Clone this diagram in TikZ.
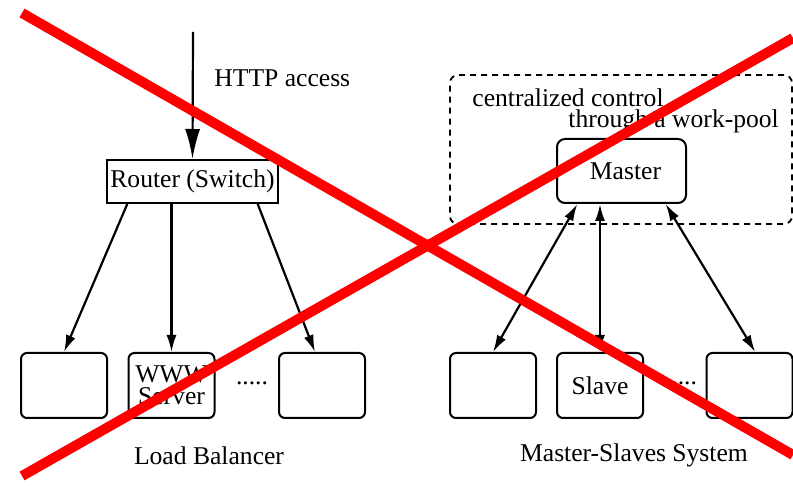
\documentclass[tikz,border=0pt]{standalone}
\usepackage{fontspec}
\setmainfont{Liberation Serif}
\usepackage{tikz}
\usetikzlibrary{arrows.meta,calc}
\definecolor{crossRed}{RGB}{255,0,0}
\tikzset{
  hostbox/.style={draw,rounded corners=3pt,line width=1pt,minimum width=43pt,minimum height=32.5pt,
                  inner sep=0pt,align=center},
  routerbox/.style={draw,line width=1pt,minimum width=85.5pt,minimum height=21.5pt,inner sep=0pt},
  poolbox/.style={draw,dash pattern=on 3pt off 2.5pt,rounded corners=4pt,line width=0.9pt,
                  minimum width=171pt,minimum height=74.5pt},
  lbl/.style={inner sep=0pt},
  arr/.style={-{Latex[length=8.5pt,width=5pt]},line width=1.1pt},
  bigarr/.style={-{Latex[length=15pt,width=7.5pt]},line width=1.1pt},
  darr/.style={{Latex[length=8.5pt,width=5pt]}-{Latex[length=8.5pt,width=5pt]},line width=1.1pt},
  cross/.style={crossRed,line width=5pt},
}

\begin{document}
\begin{tikzpicture}[x=0.5pt,y=-0.5pt,font=\fontsize{12.8}{15}\selectfont]
  \useasboundingbox (0,0) rectangle (793,486);

  % load balancer side
  \coordinate (httpin) at (193,32);
  \node[routerbox] (router) at (192.5,181.5) {Router (Switch)};
  \node[lbl,anchor=base west] (http) at (214,87) {HTTP access};
  \node[hostbox] (lb1) at (64,385.5) {};
  \node[hostbox,font=\fontsize{12.8}{11}\selectfont] (lb2) at (171.5,385.5) {WWW\\Server};
  \node[hostbox] (lb3) at (322,385.5) {};
  \node[lbl,anchor=base] (dots1) at (252,385) {.....};
  \node[lbl,anchor=base] (lbname) at (209,465) {Load Balancer};

  \draw[bigarr] (httpin) -- (router.north);
  \draw[arr] ($(router.south west)!0.123!(router.south east)$) -- (lb1.north);
  \draw[arr] (lb2.north |- router.south) -- (lb2.north);
  \draw[arr] ($(router.south west)!0.877!(router.south east)$) -- ($(lb3.north west)!0.42!(lb3.north east)$);

  % master / slaves side
  \node[poolbox] (pool) at (621,149.5) {};
  \node[lbl,anchor=base west] (ctrl) at (472,107) {centralized control};
  \node[lbl,anchor=base west] (pooltxt) at (568,128) {through a work-pool};
  \node[hostbox,rounded corners=4pt,minimum width=64.5pt,minimum height=32pt] (master) at (621.5,171) {\hspace{4pt}Master};
  \node[hostbox] (sl1) at (493,385.5) {};
  \node[hostbox] (sl2) at (600,385.5) {Slave};
  \node[hostbox] (sl3) at (749.5,385.5) {};
  \node[lbl,anchor=base] (dots2) at (681,385) {.....};
  \node[lbl,anchor=base] (msname) at (634,461) {Master-Slaves System};

  \draw[darr] ($(master.south west)!0.163!(master.south east)$) -- (sl1.north);
  \draw[darr] (sl2.north |- master.south) -- (sl2.north);
  \draw[darr] ($(master.south west)!0.837!(master.south east)$) -- ($(sl3.north west)!0.565!(sl3.north east)$);

  % crossed out
  \draw[cross] (22,13) -- (793,455);
  \draw[cross] (22,476) -- (793,38);
\end{tikzpicture}
\end{document}
